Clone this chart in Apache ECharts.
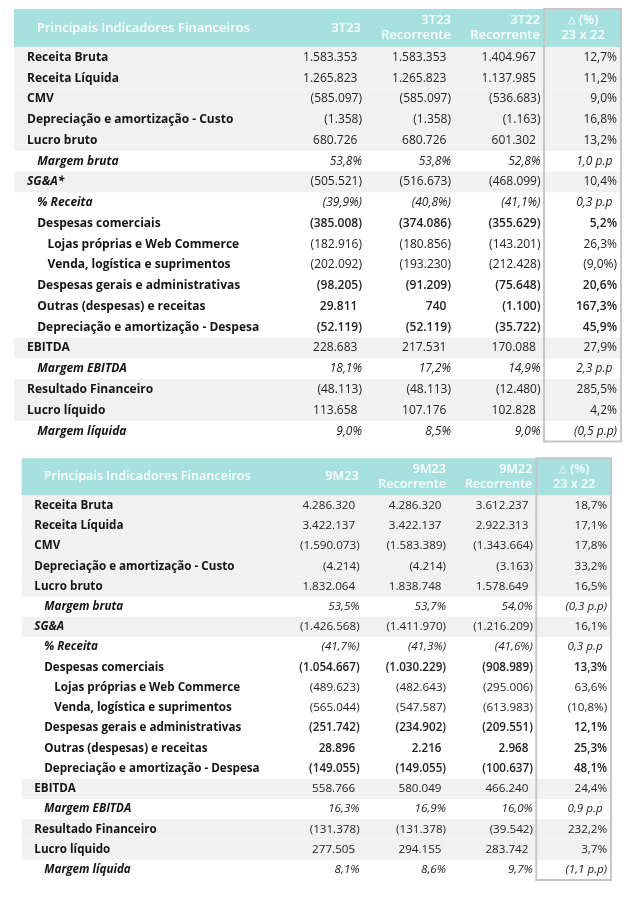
<!DOCTYPE html>
<html><head><meta charset="utf-8">
<script src="https://cdn.jsdelivr.net/npm/echarts@6/dist/echarts.min.js"></script>
<style>html,body{margin:0;padding:0;background:#fff}#c{width:636px;height:898px}</style>
</head><body><div id="c"></div>
<script>
// ---------- DATA ----------
const rowLabels3T = ['Receita Bruta','Receita Líquida','CMV','Depreciação e amortização - Custo','Lucro bruto','Margem bruta','SG&A*','% Receita','Despesas comerciais','Lojas próprias e Web Commerce','Venda, logística e suprimentos','Despesas gerais e administrativas','Outras (despesas) e receitas','Depreciação e amortização - Despesa','EBITDA','Margem EBITDA','Resultado Financeiro','Lucro líquido','Margem líquida'];
const rowLabels9M = ['Receita Bruta','Receita Líquida','CMV','Depreciação e amortização - Custo','Lucro bruto','Margem bruta','SG&A','% Receita','Despesas comerciais','Lojas próprias e Web Commerce','Venda, logística e suprimentos','Despesas gerais e administrativas','Outras (despesas) e receitas','Depreciação e amortização - Despesa','EBITDA','Margem EBITDA','Resultado Financeiro','Lucro líquido','Margem líquida'];
const headers3T = ['Principais Indicadores Financeiros','3T23','3T23\nRecorrente','3T22\nRecorrente','△ (%)\n23 x 22'];
const headers9M = ['Principais Indicadores Financeiros','9M23','9M23\nRecorrente','9M22\nRecorrente','△ (%)\n23 x 22'];
const values3T23 = ['1.583.353','1.265.823','(585.097)','(1.358)','680.726','53,8%','(505.521)','(39,9%)','(385.008)','(182.916)','(202.092)','(98.205)','29.811','(52.119)','228.683','18,1%','(48.113)','113.658','9,0%'];
const values3T23Rec = ['1.583.353','1.265.823','(585.097)','(1.358)','680.726','53,8%','(516.673)','(40,8%)','(374.086)','(180.856)','(193.230)','(91.209)','740','(52.119)','217.531','17,2%','(48.113)','107.176','8,5%'];
const values3T22Rec = ['1.404.967','1.137.985','(536.683)','(1.163)','601.302','52,8%','(468.099)','(41,1%)','(355.629)','(143.201)','(212.428)','(75.648)','(1.100)','(35.722)','170.088','14,9%','(12.480)','102.828','9,0%'];
const delta3T = ['12,7%','11,2%','9,0%','16,8%','13,2%','1,0 p.p','10,4%','0,3 p.p','5,2%','26,3%','(9,0%)','20,6%','167,3%','45,9%','27,9%','2,3 p.p','285,5%','4,2%','(0,5 p.p)'];
const values9M23 = ['4.286.320','3.422.137','(1.590.073)','(4.214)','1.832.064','53,5%','(1.426.568)','(41,7%)','(1.054.667)','(489.623)','(565.044)','(251.742)','28.896','(149.055)','558.766','16,3%','(131.378)','277.505','8,1%'];
const values9M23Rec = ['4.286.320','3.422.137','(1.583.389)','(4.214)','1.838.748','53,7%','(1.411.970)','(41,3%)','(1.030.229)','(482.643)','(547.587)','(234.902)','2.216','(149.055)','580.049','16,9%','(131.378)','294.155','8,6%'];
const values9M22Rec = ['3.612.237','2.922.313','(1.343.664)','(3.163)','1.578.649','54,0%','(1.216.209)','(41,6%)','(908.989)','(295.006)','(613.983)','(209.551)','2.968','(100.637)','466.240','16,0%','(39.542)','283.742','9,7%'];
const delta9M = ['18,7%','17,1%','17,8%','33,2%','16,5%','(0,3 p.p)','16,1%','0,3 p.p','13,3%','63,6%','(10,8%)','12,1%','25,3%','48,1%','24,4%','0,9 p.p','232,2%','3,7%','(1,1 p.p)'];

// ---------- ROW STYLES ----------
const rowIndent  = [0,0,0,0,0,1,0,1,1,2,2,1,1,1,0,1,0,0,1];
const rowShaded  = [1,1,1,1,1,0,1,0,0,0,0,0,0,0,1,0,1,1,0];
const labelItal  = [0,0,0,0,0,1,1,1,0,0,0,0,0,0,0,1,0,0,1];
const valueItal  = [0,0,0,0,0,1,0,1,0,0,0,0,0,0,0,1,0,0,1];
const valueBold  = [0,0,0,0,0,0,0,0,1,0,0,1,1,1,0,0,0,0,0];

// ---------- LAYOUT (table units) ----------
const W = 608, HEAD = 1.83, NROWS = 19;
const LABEL_X = 13, INDENT = 10.2, HEAD_X = 22.7;
const COL_ANCHOR = [348, 437, 526.5, 603];
const HEAD_ANCHOR = [347, 437, 526];
const DELTA_L = 530, DELTA_HEAD_C = 569;
const POS_SHIFT = 4.6;
const FONT = '"Open Sans", "Liberation Sans", sans-serif';
const TEAL = '#a6e0df', GREY = '#f1f1f1', BOX = '#c6c6c6';

function tableSeries(gi, labels, heads, cols, delta, scale) {
  const fs = 12 * scale, hs = 13 * scale;
  const bg = {
    type: 'custom', xAxisIndex: gi, yAxisIndex: gi, silent: true, z: 1,
    data: labels.map((l, i) => [i]),
    renderItem(p, api) {
      const i = api.value(0);
      if (!rowShaded[i]) return null;
      const a = api.coord([0, i]), b = api.coord([W, i + 1]);
      return {type: 'rect', shape: {x: a[0], y: a[1], width: b[0] - a[0], height: b[1] - a[1]}, style: {fill: GREY}};
    }
  };
  const head = {
    type: 'custom', xAxisIndex: gi, yAxisIndex: gi, silent: true, z: 2,
    data: [[-1]],
    renderItem(p, api) {
      const a = api.coord([0, -HEAD]), b = api.coord([W, 0]);
      const ym = (a[1] + b[1]) / 2;
      const ch = [{type: 'rect', shape: {x: a[0], y: a[1], width: b[0] - a[0], height: b[1] - a[1]}, style: {fill: TEAL}}];
      ch.push({type: 'text', style: {x: api.coord([HEAD_X, 0])[0], y: ym, text: heads[0], fill: '#fff', font: `600 ${hs}px ${FONT}`, align: 'left', verticalAlign: 'middle'}});
      for (let k = 1; k <= 3; k++) {
        ch.push({type: 'text', style: {x: api.coord([HEAD_ANCHOR[k - 1], 0])[0], y: ym, text: heads[k], fill: '#fff', font: `600 ${hs}px ${FONT}`, lineHeight: 15 * scale, align: 'right', verticalAlign: 'middle'}});
      }
      const dl = heads[4].split('\n');
      ch.push({type: 'text', style: {x: api.coord([DELTA_HEAD_C, 0])[0], y: ym, text: '{t|' + dl[0].slice(0, 1) + '}{h|' + dl[0].slice(1) + '}\n{h|' + dl[1] + '}',
        rich: {t: {fontSize: 10 * scale, fontWeight: 'normal', fill: '#fff', fontFamily: FONT, lineHeight: 15 * scale}, h: {fontSize: hs, fontWeight: 600, fill: '#fff', fontFamily: FONT, lineHeight: 15 * scale}},
        fill: '#fff', align: 'center', verticalAlign: 'middle'}});
      return {type: 'group', children: ch};
    }
  };
  const box = {
    type: 'custom', xAxisIndex: gi, yAxisIndex: gi, silent: true, z: 3,
    data: [[0]],
    renderItem(p, api) {
      const a = api.coord([DELTA_L, -HEAD]), b = api.coord([W, NROWS]);
      return {type: 'rect', shape: {x: a[0], y: a[1], width: b[0] - a[0] - 1, height: b[1] - a[1]}, style: {fill: 'none', stroke: BOX, lineWidth: 2}};
    }
  };
  const txt = {
    type: 'custom', xAxisIndex: gi, yAxisIndex: gi, silent: true, z: 4,
    data: labels.map((l, i) => [i]),
    renderItem(p, api) {
      const i = api.value(0);
      const ym = api.coord([0, i + 0.5])[1];
      const ch = [];
      const lf = `${labelItal[i] ? 'italic ' : ''}bold ${fs}px ${FONT}`;
      ch.push({type: 'text', style: {x: api.coord([LABEL_X + rowIndent[i] * INDENT, 0])[0], y: ym, text: labels[i], fill: '#141414', font: lf, align: 'left', verticalAlign: 'middle'}});
      const vf = `${valueItal[i] ? 'italic ' : ''}${valueBold[i] ? '600' : 'normal'} ${fs}px ${FONT}`;
      const all = cols.concat([delta]);
      all.forEach((arr, k) => {
        const s = arr[i];
        const last = s.slice(-1);
        const shift = (last === ')' || last === '%') ? 0 : POS_SHIFT;
        ch.push({type: 'text', style: {x: api.coord([COL_ANCHOR[k] - shift, 0])[0], y: ym, text: s, fill: '#222', font: vf, align: 'right', verticalAlign: 'middle'}});
      });
      return {type: 'group', children: ch};
    }
  };
  return [bg, head, box, txt];
}

const chart = echarts.init(document.getElementById('c'), null, {renderer: 'canvas'});
const axX = gi => ({type: 'value', gridIndex: gi, min: 0, max: W, show: false});
const axY = gi => ({type: 'value', gridIndex: gi, min: -HEAD, max: NROWS, inverse: true, show: false});
chart.setOption({
  animation: false,
  backgroundColor: '#ffffff',
  grid: [
    {left: 14, top: 9, width: 608, height: 432.5},
    {left: 21.7, top: 458.3, width: 590.3, height: 421.7}
  ],
  xAxis: [axX(0), axX(1)],
  yAxis: [axY(0), axY(1)],
  series: [
    ...tableSeries(0, rowLabels3T, headers3T, [values3T23, values3T23Rec, values3T22Rec], delta3T, 1),
    ...tableSeries(1, rowLabels9M, headers9M, [values9M23, values9M23Rec, values9M22Rec], delta9M, 590.3 / 608)
  ]
});
</script></body></html>
